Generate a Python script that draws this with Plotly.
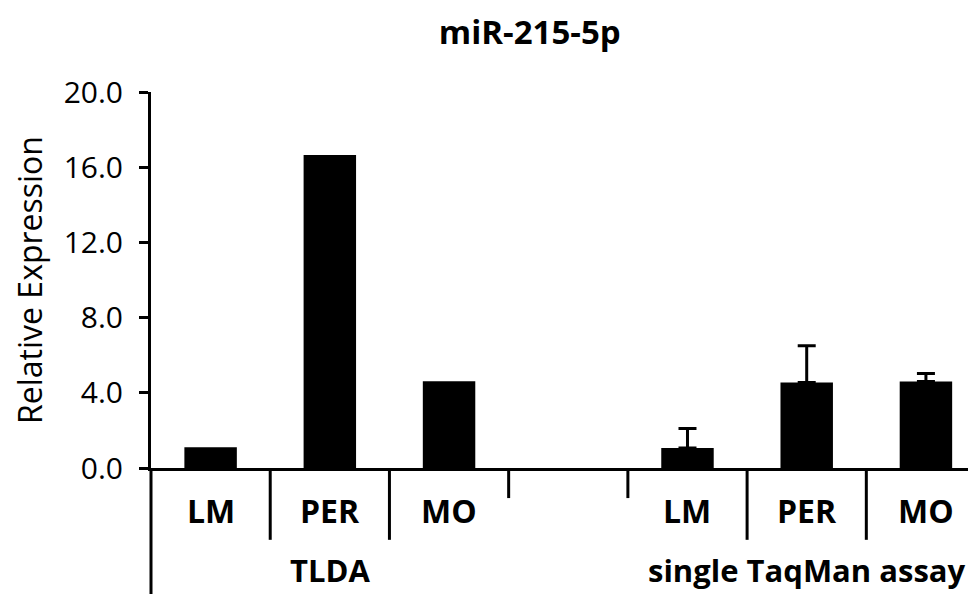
import plotly.graph_objects as go

# ---- data ----
tlda_positions = [0, 1, 2]
tlda_values = [1.1, 16.65, 4.62]
taq_positions = [4, 5, 6]
taq_values = [1.06, 4.55, 4.6]
taq_err_plus = [1.04, 1.95, 0.42]
label_positions = [0, 1, 2, 4, 5, 6]
category_labels = ["LM", "PER", "MO", "LM", "PER", "MO"]
group_labels = ["TLDA", "single TaqMan assay"]
group_centers = [1, 5]
long_separators = [0.5, 1.5, 4.5, 5.5]
short_separators = [2.5, 3.5]
y_ticks = [0, 4, 8, 12, 16, 20]
y_ticktext = ["0.0", "4.0", "8.0", "12.0", "16.0", "20.0"]

FONT = "Open Sans"

fig = go.Figure()
fig.add_trace(go.Bar(
    x=tlda_positions, y=tlda_values, width=0.44,
    marker=dict(color="black", line=dict(width=0)),
    showlegend=False,
))
fig.add_trace(go.Bar(
    x=taq_positions, y=taq_values, width=0.44,
    marker=dict(color="black", line=dict(width=0)),
    error_y=dict(type="data", symmetric=False, array=taq_err_plus,
                 arrayminus=[0] * len(taq_err_plus), visible=True,
                 color="black", thickness=3, width=9),
    showlegend=False,
))

shapes = []
for s in long_separators:
    shapes.append(dict(type="line", xref="x", yref="paper", x0=s, x1=s, y0=0, y1=-0.191,
                       line=dict(color="black", width=3)))
for s in short_separators:
    shapes.append(dict(type="line", xref="x", yref="paper", x0=s, x1=s, y0=0, y1=-0.08,
                       line=dict(color="black", width=3)))
shapes.append(dict(type="line", xref="x domain", yref="paper", x0=0, x1=0, y0=0, y1=-0.34,
                   line=dict(color="black", width=3)))

annotations = []
for p, lab in zip(label_positions, category_labels):
    annotations.append(dict(x=p, y=-0.114, xref="x", yref="paper", text=lab,
                            showarrow=False, yanchor="middle",
                            font=dict(family=FONT, size=32, color="black", weight="bold")))
for c, lab in zip(group_centers, group_labels):
    annotations.append(dict(x=c, y=-0.272, xref="x", yref="paper", text=lab,
                            showarrow=False, yanchor="middle",
                            font=dict(family=FONT, size=31, color="black", weight="bold")))

fig.update_layout(
    width=968, height=586,
    margin=dict(l=143, r=0, t=84, b=126, autoexpand=False),
    paper_bgcolor="white", plot_bgcolor="white",
    barmode="overlay",
    title=dict(text="<b>miR-215-5p</b>", xref="container", yref="container",
               x=0.539, y=0.9386, xanchor="center", yanchor="bottom",
               font=dict(family=FONT, size=33, color="black")),
    xaxis=dict(range=[-0.5, 6.42], showline=True, linecolor="black", linewidth=3,
               showticklabels=False, ticks="", showgrid=False, zeroline=False,
               automargin=False),
    yaxis=dict(range=[0, 20], tickvals=y_ticks, ticktext=y_ticktext,
               showline=True, linecolor="black", linewidth=3,
               ticks="outside", ticklen=9, tickwidth=3, tickcolor="black",
               ticklabelstandoff=10,
               showgrid=False, zeroline=False, automargin=False,
               tickfont=dict(family=FONT, size=30, color="black"),
               title=dict(text="Relative Expression", standoff=26,
                          font=dict(family=FONT, size=32, color="black"))),
    shapes=shapes, annotations=annotations,
    font=dict(family=FONT, color="black"),
)

fig.write_html("out.html")
